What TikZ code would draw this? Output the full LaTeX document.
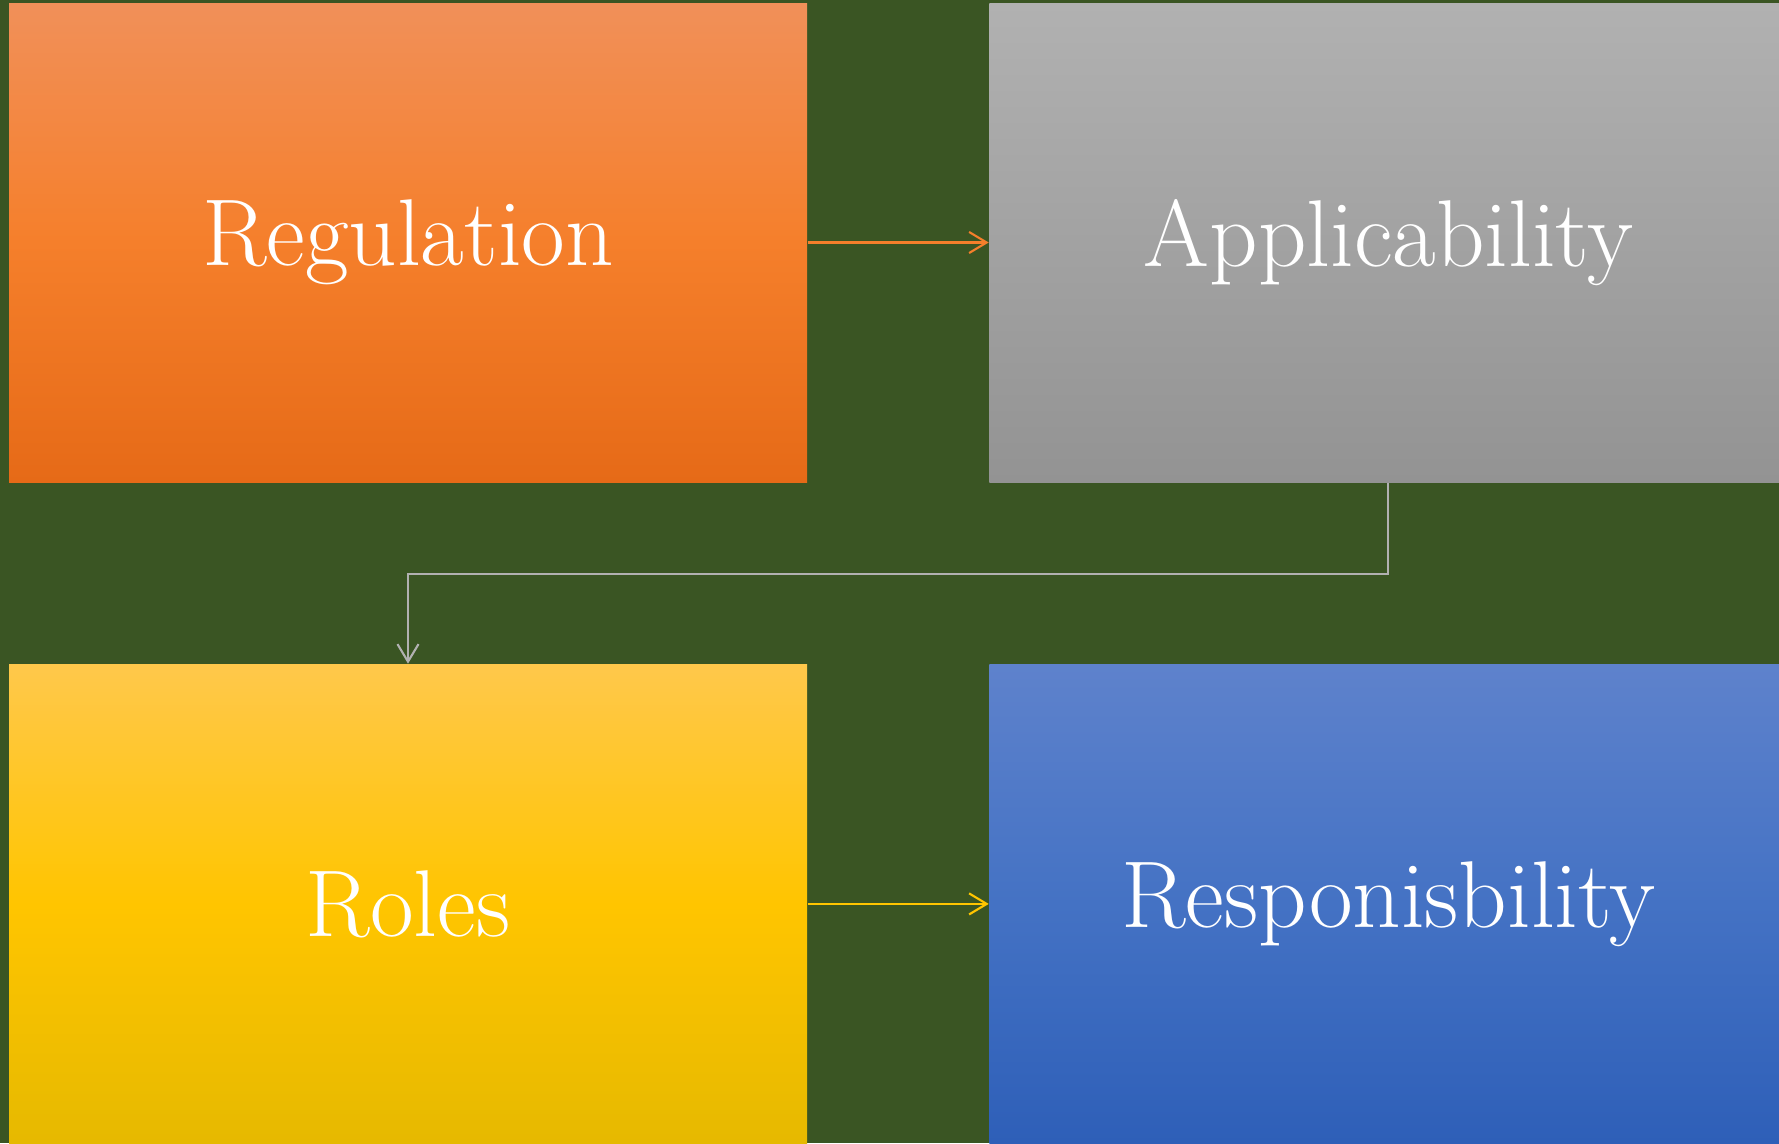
\documentclass[tikz,border=0pt]{standalone}
\usepackage{tikz}
\usetikzlibrary{calc, positioning, arrows.meta}
\definecolor{bggreen}{HTML}{3A5523}
\definecolor{orgtop}{HTML}{F19059}
\definecolor{orgmid}{HTML}{F57F2B}
\definecolor{orgbot}{HTML}{E66A17}
\definecolor{grytop}{HTML}{B1B1B1}
\definecolor{grybot}{HTML}{939393}
\definecolor{yeltop}{HTML}{FFC84B}
\definecolor{yelmid}{HTML}{FFC500}
\definecolor{yelbot}{HTML}{E6B900}
\definecolor{blutop}{HTML}{5E82CC}
\definecolor{blumid}{HTML}{4472C4}
\definecolor{blubot}{HTML}{2E5FB8}
\tikzset{
    auto, node distance=1.81cm and 1.81cm,% gap between the boxes
    box/.style={rectangle, minimum width=7.98cm, minimum height=4.79cm, inner sep=0pt,
        text=white, font=\fontsize{27}{32}\selectfont},
    link/.style={line width=0.6pt, -{Straight Barb[length=5pt, width=6pt]}},
}

\begin{document}
\begin{tikzpicture}
            % background
            \fill[bggreen] (0,0) rectangle (17.79,-11.43);
            \useasboundingbox (0,0) rectangle (17.79,-11.43);
            \clip (0,0) rectangle (17.79,-11.43);

            \node[box, top color=orgtop, bottom color=orgbot, middle color=orgmid] (reg) at (4.08,-2.425) {Regulation};
            \node[box, top color=grytop, bottom color=grybot, right=of reg] (app) {Applicability};
            \node[box, top color=yeltop, bottom color=yelbot, middle color=yelmid, below=of reg] (roles) {Roles};
            \node[box, top color=blutop, bottom color=blubot, middle color=blumid, right=of roles] (resp) {Responisbility};

            % connectors
            \draw[link, orgmid] (reg) -- (app);
            \coordinate (bend) at ($(app.south)+(0,-0.91)$);
            \draw[link, grytop] (app.south) -- (bend) -| (roles.north);
            \draw[link, yelmid] (roles) -- (resp);
\end{tikzpicture}
\end{document}
